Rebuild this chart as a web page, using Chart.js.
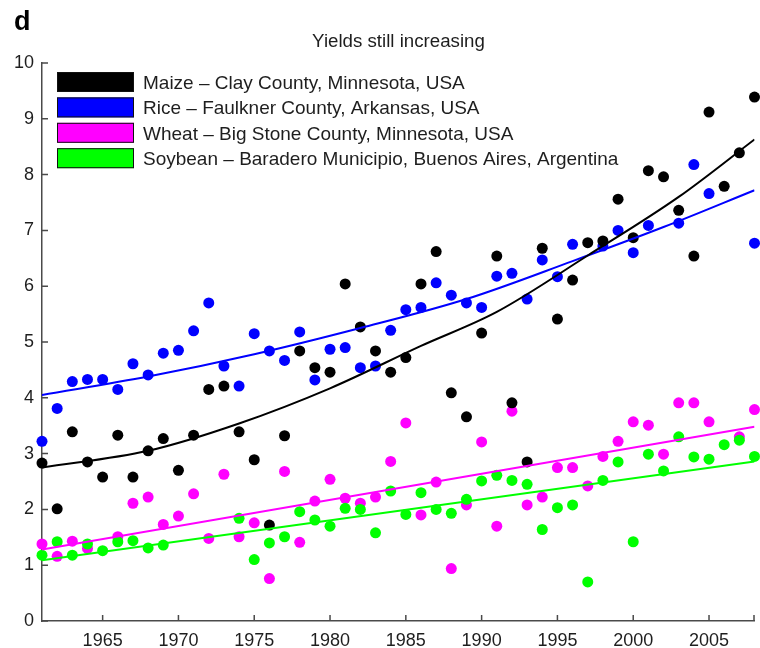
<!DOCTYPE html>
<html>
<head>
<meta charset="utf-8">
<title>Yields still increasing</title>
<script src="https://cdn.jsdelivr.net/npm/chart.js@4.4.1/dist/chart.umd.min.js"></script>
<style>
  html, body { margin: 0; padding: 0; background: #ffffff; }
  #wrap { width: 760px; height: 648px; }
</style>
</head>
<body>
<div id="wrap"><canvas id="c" width="760" height="648"></canvas></div>
<script>
// Harvest years (x values)
const years = [1961, 1962, 1963, 1964, 1965, 1966, 1967, 1968, 1969, 1970,
               1971, 1972, 1973, 1974, 1975, 1976, 1977, 1978, 1979, 1980,
               1981, 1982, 1983, 1984, 1985, 1986, 1987, 1988, 1989, 1990,
               1991, 1992, 1993, 1994, 1995, 1996, 1997, 1998, 1999, 2000,
               2001, 2002, 2003, 2004, 2005, 2006, 2007, 2008];

// Yields per year (null = no observation)
const maize = [2.83, 2.01, 3.39, 2.85, 2.58, 3.33, 2.58, 3.05, 3.27, 2.70,
               3.33, 4.15, 4.21, 3.39, 2.89, 1.72, 3.32, 4.84, 4.54, 4.46,
               6.04, 5.27, 4.84, 4.46, 4.72, 6.04, 6.62, 4.09, 3.66, 5.16,
               6.54, 3.91, 2.85, 6.68, 5.41, 6.11, 6.78, 6.81, 7.56, 6.87,
               8.07, 7.96, 7.36, 6.54, 9.12, 7.79, 8.39, 9.39];
const rice = [3.22, 3.81, 4.29, 4.33, 4.33, 4.15, 4.61, 4.41, 4.80, 4.85,
              5.20, 5.70, 4.57, 4.21, 5.15, 4.84, 4.67, 5.18, 4.32, 4.87,
              4.90, 4.54, 4.57, 5.21, 5.58, 5.62, 6.06, 5.84, 5.70, 5.62,
              6.18, 6.23, 5.77, 6.47, 6.17, 6.75, null, 6.72, 7.00, 6.60,
              7.09, null, 7.13, 8.18, 7.66, null, null, 6.77];
const wheat = [1.38, 1.16, 1.43, 1.30, null, 1.51, 2.11, 2.22, 1.73, 1.88,
               2.28, 1.48, 2.63, 1.51, 1.76, 0.76, 2.68, 1.41, 2.15, 2.54,
               2.20, 2.11, 2.22, 2.86, 3.55, 1.90, 2.49, 0.94, 2.08, 3.21,
               1.70, 3.76, 2.08, 2.22, 2.75, 2.75, 2.42, 2.95, 3.22, 3.57,
               3.51, 2.99, 3.91, 3.91, 3.57, null, 3.30, 3.79];
const soybean = [1.18, 1.42, 1.18, 1.38, 1.26, 1.42, 1.44, 1.31, 1.36, null,
                 null, null, null, 1.84, 1.10, 1.40, 1.51, 1.96, 1.81, 1.70,
                 2.02, 2.00, 1.58, 2.33, 1.91, 2.30, 2.00, 1.93, 2.18, 2.51,
                 2.61, 2.52, 2.45, 1.64, 2.03, 2.08, 0.70, 2.52, 2.85, 1.42,
                 2.99, 2.69, 3.30, 2.94, 2.90, 3.16, 3.24, 2.95];

// Fitted trend curves, sampled at a few years
const maizeTrendYears = [1961, 1968, 1974, 1980, 1986, 1991, 1997, 2003, 2008];
const maizeTrend      = [2.75, 3.05, 3.54, 4.17, 4.93, 5.54, 6.55, 7.60, 8.63];
const riceTrendYears  = [1961, 1968, 1975, 1982, 1989, 1996, 2002, 2008];
const riceTrend       = [4.05, 4.38, 4.78, 5.25, 5.77, 6.45, 7.06, 7.72];
const wheatTrendYears = [1961, 2008];
const wheatTrend      = [1.28, 3.48];
const soyTrendYears   = [1961, 2008];
const soyTrend        = [1.09, 2.86];

// Axis ticks
const xTicks = [1965, 1970, 1975, 1980, 1985, 1990, 1995, 2000, 2005];
const yTicks = [0, 1, 2, 3, 4, 5, 6, 7, 8, 9, 10];

const seriesNames = [
  'Maize \u2013 Clay County, Minnesota, USA',
  'Rice \u2013 Faulkner County, Arkansas, USA',
  'Wheat \u2013 Big Stone County, Minnesota, USA',
  'Soybean \u2013 Baradero Municipio, Buenos Aires, Argentina'
];
const chartTitle = 'Yields still increasing';
const panelLetter = 'd';

const FONT = '"Liberation Sans", Arial, Helvetica, sans-serif';
const TEXT = '#1e1e1e';
const AXIS = '#4a4a4a';
const COLORS = ['#000000', '#0000ff', '#ff00ff', '#00ff00'];

function points(xs, ys) {
  const out = [];
  xs.forEach((x, i) => { if (ys[i] !== null) out.push({ x: x, y: ys[i] }); });
  return out;
}

function dots(label, values, color, order) {
  return {
    type: 'scatter',
    label: label,
    data: points(years, values),
    backgroundColor: color,
    borderWidth: 0,
    pointRadius: 5.5,
    pointHoverRadius: 5.5,
    clip: false,
    order: order,
    isSeries: true
  };
}

function trend(xs, ys, color) {
  return {
    type: 'line',
    label: '',
    data: points(xs, ys),
    borderColor: color,
    borderWidth: 2,
    pointRadius: 0,
    fill: false,
    cubicInterpolationMode: 'monotone',
    order: 0,
    isSeries: false
  };
}

// Inward tick marks, legend, title and panel letter
const decorations = {
  id: 'decorations',
  afterDraw(chart) {
    const ctx = chart.ctx;
    const area = chart.chartArea;
    const xs = chart.scales.x, ys = chart.scales.y;
    ctx.save();

    ctx.strokeStyle = AXIS;
    ctx.lineWidth = 1.5;
    ctx.beginPath();
    yTicks.forEach(v => {
      const y = ys.getPixelForValue(v);
      ctx.moveTo(area.left, y); ctx.lineTo(area.left + 6, y);
    });
    xTicks.forEach(v => {
      const x = xs.getPixelForValue(v);
      ctx.moveTo(x, area.bottom); ctx.lineTo(x, area.bottom - 6);
    });
    ctx.moveTo(area.right - 0.5, area.bottom); ctx.lineTo(area.right - 0.5, area.bottom - 6);
    ctx.stroke();

    // panel letter
    ctx.fillStyle = '#000';
    ctx.font = 'bold 27px ' + FONT;
    ctx.textAlign = 'left';
    ctx.textBaseline = 'alphabetic';
    ctx.fillText(panelLetter, 14, 30);

    // title
    ctx.fillStyle = TEXT;
    ctx.font = '18.7px ' + FONT;
    ctx.textAlign = 'center';
    ctx.textBaseline = 'middle';
    ctx.fillText(chartTitle, 398.5, 42);

    // legend
    const series = chart.data.datasets.filter(d => d.isSeries);
    const boxX = 57, boxW = 77, boxH = 20, rowTop = 72, rowGap = 25.4;
    ctx.font = '19px ' + FONT;
    ctx.textAlign = 'left';
    ctx.textBaseline = 'middle';
    series.forEach((d, i) => {
      const y = rowTop + i * rowGap;
      ctx.fillStyle = d.backgroundColor;
      ctx.fillRect(boxX, y, boxW, boxH);
      ctx.strokeStyle = '#111';
      ctx.lineWidth = 1;
      ctx.strokeRect(boxX + 0.5, y + 0.5, boxW - 1, boxH - 1);
      ctx.fillStyle = TEXT;
      ctx.fillText(d.label, 143, y + boxH / 2 + 1.5);
    });
    ctx.restore();
  }
};

new Chart(document.getElementById('c'), {
  data: {
    datasets: [
      dots(seriesNames[0], maize, COLORS[0], 1),
      dots(seriesNames[1], rice, COLORS[1], 3),
      dots(seriesNames[2], wheat, COLORS[2], 4),
      dots(seriesNames[3], soybean, COLORS[3], 2),
      trend(maizeTrendYears, maizeTrend, COLORS[0]),
      trend(riceTrendYears, riceTrend, COLORS[1]),
      trend(wheatTrendYears, wheatTrend, COLORS[2]),
      trend(soyTrendYears, soyTrend, COLORS[3])
    ]
  },
  options: {
    responsive: false,
    animation: false,
    events: [],
    layout: { padding: { top: 63, right: 3, left: 0, bottom: 0 } },
    plugins: {
      legend: { display: false },
      title: { display: false },
      tooltip: { enabled: false }
    },
    scales: {
      x: {
        type: 'linear',
        min: 1961,
        max: 2008,
        afterFit: s => { s.height = 27; },
        afterBuildTicks: s => { s.ticks = xTicks.map(v => ({ value: v })); },
        grid: { display: false, drawTicks: false },
        border: { display: true, color: AXIS, width: 1.5 },
        ticks: {
          autoSkip: false,
          maxRotation: 0,
          padding: 9,
          color: TEXT,
          font: { family: FONT, size: 18 },
          callback: v => String(v)
        }
      },
      y: {
        type: 'linear',
        min: 0,
        max: 10,
        afterFit: s => { s.width = 42; },
        afterBuildTicks: s => { s.ticks = yTicks.map(v => ({ value: v })); },
        grid: { display: false, drawTicks: false },
        border: { display: true, color: AXIS, width: 1.5 },
        ticks: {
          padding: 8,
          color: TEXT,
          font: { family: FONT, size: 18 },
          callback: v => String(v)
        }
      }
    }
  },
  plugins: [decorations]
});
</script>
</body>
</html>
